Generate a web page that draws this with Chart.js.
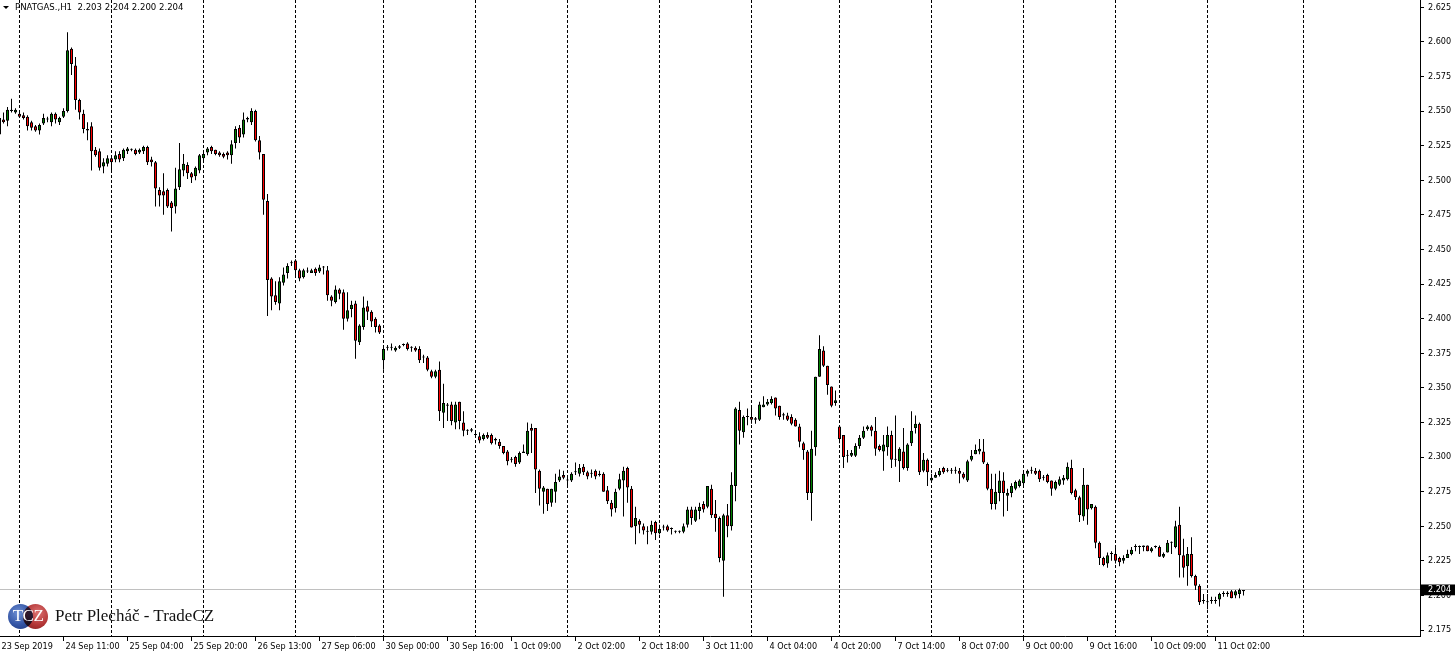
<!DOCTYPE html>
<html>
<head>
<meta charset="utf-8">
<script src="https://cdn.jsdelivr.net/npm/chart.js@4.4.1/dist/chart.umd.min.js"></script>
<style>
html,body{margin:0;padding:0;background:#fff;}
#wrap{position:relative;width:1455px;height:654px;overflow:hidden;background:#fff;}
#c{position:absolute;left:0;top:0;}
#hdr{position:absolute;left:15px;top:1px;font-family:'DejaVu Sans Condensed','Liberation Sans',sans-serif;font-size:9.5px;line-height:11px;color:#000;white-space:pre;}
#tri{position:absolute;left:3px;top:6px;width:0;height:0;border-left:3px solid transparent;border-right:3px solid transparent;border-top:3px solid #000;}
.circ{position:absolute;top:604px;width:25px;height:25px;border-radius:50%;}
#c1{left:8px;background:radial-gradient(circle at 40% 35%,#6f90d4 0%,#3354a4 55%,#1d3478 100%);}
#c2{left:23px;background:radial-gradient(circle at 60% 35%,#dc7272 0%,#b33636 55%,#7a1818 100%);mix-blend-mode:multiply;}
#tcz{position:absolute;left:8px;top:606px;width:40px;text-align:center;font-family:'Liberation Serif',serif;font-size:17px;line-height:20px;color:#fff;letter-spacing:-0.5px;}
#wmname{position:absolute;left:55px;top:606px;font-family:'Liberation Serif',serif;font-size:17px;line-height:20px;color:#111;white-space:pre;}
</style>
</head>
<body>
<div id="wrap">
<canvas id="c" width="1455" height="654"></canvas>
<div id="tri"></div>
<div id="hdr"></div>
<div class="circ" id="c1"></div>
<div class="circ" id="c2"></div>
<div id="tcz">TCZ</div>
<div id="wmname">Petr Plecháč - TradeCZ</div>
</div>
<script>
// ---------- data ----------
const symbolName = 'PNATGAS.';
const timeframe = 'H1';
const firstBar = -1; // index of the first hourly bar in the window

const opens = [
2.533,2.544,2.543,2.550,2.549,2.548,2.547,2.546,2.542,2.539,2.536,
2.541,2.544,2.542,2.548,2.542,2.546,2.550,2.595,2.583,2.558,
2.548,2.537,2.539,2.522,2.521,2.510,2.512,2.516,2.515,2.519,
2.516,2.521,2.522,2.522,2.520,2.521,2.524,2.515,2.513,2.493,
2.492,2.493,2.484,2.481,2.495,2.507,2.511,2.505,2.503,2.507,
2.516,2.520,2.524,2.522,2.520,2.519,2.520,2.518,2.527,2.538,
2.533,2.545,2.542,2.550,2.529,2.519,2.485,2.429,2.417,2.411,
2.426,2.433,2.440,2.442,2.435,2.430,2.434,2.433,2.436,2.434,
2.437,2.435,2.416,2.412,2.421,2.419,2.400,2.407,2.411,2.383,
2.394,2.409,2.405,2.400,2.395,2.370,2.379,2.379,2.377,2.379,
2.381,2.382,2.379,2.379,2.378,2.372,2.372,2.362,2.358,2.363,
2.332,2.338,2.338,2.325,2.340,2.325,2.319,2.320,2.316,2.315,
2.313,2.316,2.316,2.313,2.311,2.308,2.304,2.298,2.300,2.296,
2.303,2.302,2.321,2.321,2.290,2.275,2.277,2.267,2.275,2.283,
2.287,2.283,2.283,2.289,2.288,2.293,2.289,2.288,2.290,2.288,
2.288,2.276,2.267,2.263,2.277,2.283,2.292,2.277,2.250,2.254,
2.250,2.246,2.246,2.253,2.245,2.249,2.250,2.248,2.246,2.246,
2.246,2.251,2.262,2.254,2.261,2.266,2.264,2.277,2.259,2.256,
2.225,2.258,2.250,2.279,2.334,2.318,2.329,2.329,2.328,2.327,
2.336,2.338,2.339,2.343,2.337,2.331,2.330,2.329,2.327,2.322,
2.310,2.304,2.274,2.307,2.358,2.377,2.366,2.351,2.339,2.322,
2.316,2.301,2.301,2.301,2.308,2.314,2.320,2.322,2.319,2.308,
2.304,2.307,2.316,2.298,2.297,2.304,2.292,2.310,2.321,2.324,
2.290,2.298,2.283,2.285,2.287,2.292,2.290,2.290,2.290,2.290,
2.288,2.283,2.298,2.302,2.304,2.304,2.295,2.277,2.266,2.274,
2.283,2.272,2.274,2.277,2.279,2.281,2.288,2.290,2.290,2.290,
2.285,2.287,2.283,2.277,2.280,2.283,2.284,2.292,2.276,2.271,
2.257,2.280,2.263,2.264,2.238,2.227,2.223,2.230,2.230,2.227,
2.225,2.227,2.230,2.235,2.235,2.235,2.236,2.232,2.235,2.235,
2.228,2.231,2.238,2.235,2.251,2.229,2.221,2.230,2.214,2.207,
2.196,2.195,2.196,2.196,2.197,2.201,2.201,2.203,2.200,2.201,2.203
];
const highs = [
2.550,2.549,2.553,2.559,2.552,2.549,2.549,2.547,2.543,2.540,2.541,
2.548,2.546,2.549,2.549,2.546,2.552,2.607,2.596,2.589,2.559,
2.551,2.542,2.542,2.524,2.523,2.516,2.518,2.518,2.521,2.521,
2.523,2.524,2.523,2.523,2.523,2.525,2.525,2.517,2.514,2.495,
2.505,2.494,2.485,2.509,2.527,2.519,2.513,2.506,2.510,2.519,
2.521,2.524,2.525,2.522,2.521,2.520,2.521,2.529,2.539,2.540,
2.549,2.546,2.552,2.551,2.532,2.519,2.490,2.430,2.427,2.430,
2.437,2.440,2.442,2.443,2.436,2.436,2.437,2.436,2.437,2.439,
2.438,2.438,2.417,2.424,2.422,2.421,2.419,2.413,2.413,2.396,
2.416,2.413,2.406,2.401,2.396,2.380,2.381,2.382,2.380,2.381,
2.382,2.383,2.380,2.380,2.380,2.374,2.373,2.363,2.363,2.369,
2.353,2.339,2.340,2.340,2.340,2.333,2.320,2.321,2.318,2.318,
2.317,2.318,2.317,2.314,2.313,2.308,2.305,2.300,2.301,2.304,
2.309,2.325,2.324,2.321,2.291,2.279,2.277,2.277,2.288,2.291,
2.290,2.286,2.289,2.296,2.295,2.295,2.290,2.291,2.291,2.290,
2.289,2.279,2.269,2.277,2.288,2.293,2.293,2.279,2.264,2.255,
2.252,2.250,2.254,2.254,2.251,2.251,2.251,2.249,2.247,2.247,
2.252,2.264,2.264,2.264,2.267,2.268,2.279,2.280,2.269,2.257,
2.259,2.266,2.289,2.336,2.340,2.330,2.335,2.336,2.329,2.340,
2.344,2.342,2.344,2.343,2.337,2.332,2.332,2.331,2.328,2.324,
2.311,2.305,2.319,2.358,2.388,2.380,2.366,2.351,2.348,2.322,
2.316,2.305,2.305,2.310,2.316,2.322,2.323,2.323,2.329,2.309,
2.316,2.322,2.319,2.330,2.307,2.321,2.310,2.333,2.330,2.325,
2.303,2.299,2.288,2.289,2.292,2.293,2.292,2.292,2.293,2.292,
2.289,2.298,2.305,2.309,2.313,2.313,2.296,2.288,2.288,2.290,
2.289,2.277,2.281,2.283,2.284,2.289,2.291,2.293,2.292,2.291,
2.287,2.288,2.283,2.283,2.286,2.287,2.296,2.298,2.277,2.272,
2.292,2.280,2.266,2.265,2.239,2.228,2.231,2.232,2.235,2.228,
2.229,2.233,2.235,2.237,2.236,2.236,2.236,2.235,2.236,2.236,
2.231,2.240,2.239,2.254,2.264,2.241,2.235,2.242,2.215,2.208,
2.201,2.201,2.199,2.199,2.202,2.203,2.203,2.204,2.204,2.205,2.204
];
const lows = [
2.532,2.541,2.539,2.549,2.548,2.545,2.544,2.536,2.536,2.535,2.533,
2.540,2.542,2.539,2.541,2.540,2.545,2.549,2.576,2.551,2.544,
2.534,2.529,2.507,2.517,2.507,2.505,2.510,2.507,2.513,2.513,
2.514,2.519,2.521,2.518,2.519,2.519,2.511,2.510,2.481,2.481,
2.475,2.480,2.463,2.476,2.493,2.503,2.501,2.498,2.500,2.505,
2.514,2.518,2.519,2.518,2.517,2.516,2.515,2.512,2.523,2.527,
2.531,2.542,2.540,2.528,2.515,2.475,2.402,2.406,2.410,2.406,
2.424,2.429,2.438,2.430,2.427,2.429,2.433,2.433,2.431,2.433,
2.432,2.413,2.409,2.411,2.414,2.392,2.398,2.401,2.371,2.381,
2.392,2.399,2.394,2.390,2.389,2.363,2.377,2.377,2.376,2.378,
2.380,2.377,2.376,2.376,2.368,2.368,2.362,2.357,2.357,2.326,
2.321,2.326,2.323,2.320,2.320,2.315,2.316,2.318,2.315,2.310,
2.312,2.313,2.309,2.309,2.306,2.302,2.294,2.296,2.293,2.295,
2.303,2.301,2.303,2.274,2.265,2.259,2.261,2.264,2.267,2.282,
2.284,2.278,2.282,2.287,2.286,2.287,2.284,2.285,2.284,2.286,
2.275,2.266,2.257,2.260,2.276,2.257,2.267,2.249,2.237,2.245,
2.244,2.237,2.244,2.240,2.244,2.247,2.246,2.244,2.245,2.245,
2.245,2.249,2.251,2.253,2.255,2.260,2.263,2.256,2.246,2.224,
2.199,2.242,2.247,2.268,2.309,2.314,2.323,2.324,2.324,2.326,
2.336,2.337,2.338,2.330,2.327,2.327,2.326,2.323,2.322,2.307,
2.298,2.269,2.254,2.301,2.358,2.365,2.345,2.336,2.337,2.310,
2.292,2.296,2.300,2.300,2.306,2.313,2.319,2.315,2.301,2.304,
2.290,2.301,2.292,2.293,2.282,2.291,2.290,2.308,2.317,2.287,
2.289,2.279,2.282,2.285,2.286,2.288,2.289,2.288,2.288,2.281,
2.284,2.282,2.297,2.302,2.302,2.295,2.276,2.262,2.262,2.268,
2.257,2.261,2.271,2.276,2.278,2.278,2.286,2.288,2.287,2.282,
2.283,2.281,2.272,2.276,2.279,2.280,2.283,2.273,2.269,2.253,
2.254,2.251,2.262,2.234,2.222,2.221,2.220,2.225,2.223,2.221,
2.223,2.227,2.229,2.232,2.230,2.232,2.232,2.231,2.234,2.228,
2.227,2.231,2.230,2.234,2.213,2.213,2.207,2.213,2.204,2.193,
2.194,2.190,2.194,2.194,2.192,2.199,2.199,2.198,2.198,2.198,2.200
];
const closes = [
2.545,2.542,2.551,2.551,2.551,2.546,2.545,2.539,2.538,2.536,2.540,
2.545,2.544,2.548,2.544,2.545,2.550,2.594,2.584,2.558,2.549,
2.537,2.536,2.521,2.518,2.509,2.513,2.516,2.513,2.518,2.515,
2.522,2.523,2.522,2.519,2.522,2.524,2.513,2.513,2.494,2.489,
2.489,2.481,2.480,2.494,2.508,2.512,2.505,2.502,2.509,2.518,
2.519,2.523,2.521,2.519,2.518,2.517,2.518,2.526,2.537,2.531,
2.544,2.544,2.550,2.529,2.520,2.486,2.428,2.416,2.412,2.427,
2.432,2.438,2.440,2.435,2.429,2.435,2.434,2.435,2.433,2.437,
2.437,2.417,2.413,2.421,2.418,2.400,2.406,2.410,2.384,2.395,
2.408,2.405,2.398,2.394,2.390,2.378,2.379,2.379,2.379,2.380,
2.381,2.378,2.379,2.377,2.370,2.372,2.363,2.358,2.362,2.333,
2.339,2.337,2.326,2.338,2.326,2.319,2.319,2.319,2.316,2.312,
2.316,2.314,2.310,2.312,2.308,2.303,2.297,2.298,2.295,2.303,
2.304,2.319,2.319,2.291,2.277,2.278,2.266,2.277,2.282,2.286,
2.285,2.283,2.288,2.289,2.292,2.289,2.286,2.288,2.286,2.287,
2.275,2.268,2.262,2.275,2.284,2.290,2.278,2.249,2.256,2.251,
2.247,2.246,2.251,2.245,2.248,2.249,2.247,2.248,2.246,2.246,
2.250,2.262,2.256,2.262,2.264,2.262,2.279,2.258,2.256,2.227,
2.258,2.250,2.280,2.335,2.319,2.329,2.329,2.327,2.327,2.338,
2.338,2.340,2.342,2.335,2.329,2.330,2.327,2.324,2.322,2.311,
2.305,2.274,2.306,2.358,2.378,2.366,2.352,2.337,2.341,2.313,
2.300,2.301,2.303,2.308,2.314,2.319,2.322,2.319,2.306,2.305,
2.309,2.316,2.298,2.298,2.306,2.292,2.309,2.319,2.324,2.289,
2.298,2.289,2.285,2.287,2.290,2.289,2.290,2.290,2.290,2.288,
2.285,2.297,2.301,2.305,2.306,2.296,2.277,2.266,2.275,2.283,
2.274,2.274,2.279,2.282,2.283,2.288,2.290,2.290,2.288,2.284,
2.285,2.282,2.277,2.282,2.284,2.285,2.293,2.274,2.271,2.258,
2.280,2.262,2.266,2.238,2.227,2.222,2.229,2.230,2.225,2.224,
2.227,2.230,2.233,2.235,2.235,2.236,2.232,2.234,2.235,2.228,
2.230,2.238,2.238,2.250,2.229,2.220,2.230,2.214,2.207,2.195,
2.196,2.195,2.196,2.196,2.201,2.201,2.202,2.198,2.203,2.204,2.204
];

// day separators (bar index of each day's first bar)
const separatorBars = [4, 27, 50, 73, 95, 118, 141, 164, 187, 209, 232, 255, 278, 301, 325];

// time-axis ticks
const xTickBars = [-1, 15, 31, 47, 63, 79, 95, 111, 127, 143, 159, 175, 191, 207, 223, 239, 255, 271, 287, 303];
const xTickLabels = ['23 Sep 2019','24 Sep 11:00','25 Sep 04:00','25 Sep 20:00','26 Sep 13:00','27 Sep 06:00',
  '30 Sep 00:00','30 Sep 16:00','1 Oct 09:00','2 Oct 02:00','2 Oct 18:00','3 Oct 11:00','4 Oct 04:00',
  '4 Oct 20:00','7 Oct 14:00','8 Oct 07:00','9 Oct 00:00','9 Oct 16:00','10 Oct 09:00','11 Oct 02:00'];

// price-axis ticks
const yTickValues = [2.175,2.200,2.225,2.250,2.275,2.300,2.325,2.350,2.375,2.400,2.425,2.450,2.475,2.500,2.525,2.550,2.575,2.600,2.625];

// ---------- build ----------
const n = opens.length;
if (highs.length !== n || lows.length !== n || closes.length !== n) {
  throw new Error('length mismatch ' + [opens.length, highs.length, lows.length, closes.length].join(','));
}
const lastK = n - 1;
const lastPrice = closes[lastK];
const f3 = v => v.toFixed(3);
document.getElementById('hdr').textContent =
  symbolName + ',' + timeframe + '  ' + [opens[lastK], highs[lastK], lows[lastK], closes[lastK]].map(f3).join(' ');

const wickData = lows.map((l, k) => ({x: firstBar + k, y: [l, highs[k]]}));
const bodyData = opens.map((o, k) => ({x: firstBar + k, y: [o, closes[k]]}));

const UP = '#008000', DOWN = '#ff0000';
function bodyColor(ctx) {
  const k = ctx.dataIndex;
  if (k === undefined) return UP;
  const o = Math.round(opens[k] * 1000), c = Math.round(closes[k] * 1000);
  return c > o ? UP : (c < o ? DOWN : '#000');
}

const FONT = "'DejaVu Sans Condensed','Liberation Sans',sans-serif";
const xMin = -0.875, xMax = 354.125;   // 355 bar slots of 4px
const yMin = 2.17067, yMax = 2.63028;
const isLastTick = c => c.type === 'tick' && c.index === yTickValues.length;
const zeroPad = s => { s.paddingLeft = 0; s.paddingRight = 0; s.paddingTop = 0; s.paddingBottom = 0; };

new Chart(document.getElementById('c'), {
  type: 'bar',
  data: {
    datasets: [
      {
        label: 'body', data: bodyData, xAxisID: 'x', yAxisID: 'y',
        grouped: false, barPercentage: 1, categoryPercentage: 1,
        barThickness: 3, maxBarThickness: 3,
        backgroundColor: bodyColor, borderColor: '#000', borderWidth: 1,
        borderSkipped: false, minBarLength: 1, inflateAmount: 0, order: 0
      },
      {
        label: 'wick', data: wickData, xAxisID: 'x', yAxisID: 'y',
        grouped: false, barPercentage: 1, categoryPercentage: 1,
        barThickness: 1, maxBarThickness: 1,
        backgroundColor: '#000', borderWidth: 0, inflateAmount: 0, order: 1
      }
    ]
  },
  options: {
    responsive: false, animation: false, devicePixelRatio: 1, events: [],
    layout: {padding: 0},
    plugins: {legend: {display: false}, tooltip: {enabled: false}, title: {display: false}},
    scales: {
      x: {
        type: 'linear', position: 'bottom', min: xMin, max: xMax, bounds: 'data', offset: false,
        afterBuildTicks: s => { s.ticks = xTickBars.map(v => ({value: v})); },
        afterFit: s => { s.height = 18; zeroPad(s); },
        ticks: {
          autoSkip: false, maxRotation: 0, minRotation: 0, align: 'start', labelOffset: 2, padding: 0,
          color: '#000', font: {family: FONT, size: 9},
          callback: v => { const k = xTickBars.indexOf(v); return k >= 0 ? xTickLabels[k] : ''; }
        },
        grid: {offset: false, drawOnChartArea: false, drawTicks: true, tickLength: 5, tickColor: '#000', color: '#000'},
        border: {display: true, color: '#000', width: 1}
      },
      xSep: {
        type: 'linear', position: 'bottom', min: xMin, max: xMax, bounds: 'data', offset: false,
        afterBuildTicks: s => { s.ticks = separatorBars.map(v => ({value: v})); },
        afterFit: s => { s.height = 0; zeroPad(s); },
        ticks: {display: false, autoSkip: false},
        grid: {offset: false, drawOnChartArea: true, drawTicks: false, color: '#000', lineWidth: 1},
        border: {display: false, dash: [3, 2]}
      },
      y: {
        type: 'linear', position: 'right', min: yMin, max: yMax, bounds: 'data',
        afterBuildTicks: s => { s.ticks = yTickValues.map(v => ({value: v})).concat([{value: lastPrice}]); },
        afterFit: s => { s.width = 35; zeroPad(s); },
        ticks: {
          autoSkip: false, padding: 4, font: {family: FONT, size: 9},
          color: c => isLastTick(c) ? '#fff' : '#000',
          showLabelBackdrop: c => isLastTick(c),
          backdropColor: '#000',
          backdropPadding: {top: 0, bottom: 0, left: 7, right: 5},
          callback: v => f3(v)
        },
        grid: {
          offset: false, drawOnChartArea: true, drawTicks: true, tickLength: 4, tickColor: '#000',
          color: c => isLastTick(c) ? '#c0c0c0' : 'rgba(0,0,0,0)'
        },
        border: {display: true, color: '#000', width: 1}
      }
    }
  }
});
</script>
</body>
</html>
